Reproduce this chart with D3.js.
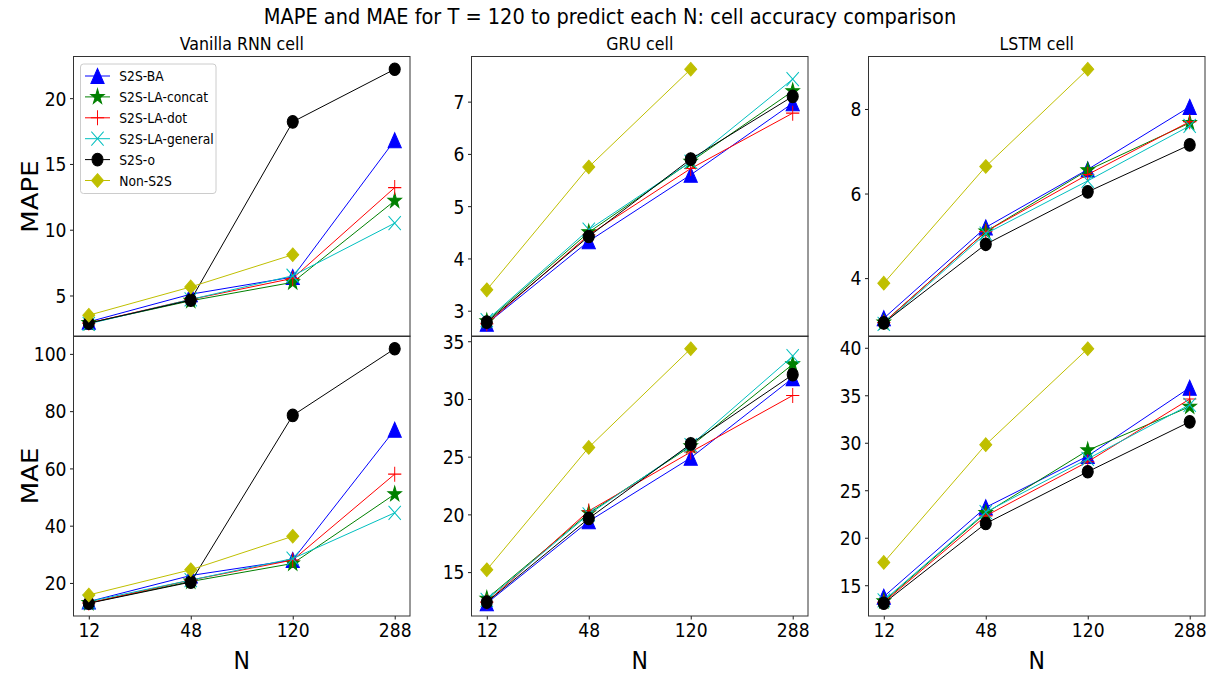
<!DOCTYPE html>
<html lang="en">
  <head>
    <meta charset="utf-8" />
    <title>MAPE and MAE cell accuracy comparison</title>
    <script src="https://cdnjs.cloudflare.com/ajax/libs/d3/7.8.5/d3.min.js"></script>
    <style type="text/css">
      body { margin: 0; background: #fff; }
      text { font-family: "DejaVu Sans", sans-serif; fill: #000; }
    </style>
  </head>

  <body>
    <div id="chart"></div>

    <script>
      // Data
      const categories = ['12', '48', '120', '288'];
      const seriesNames = ['S2S-BA', 'S2S-LA-concat', 'S2S-LA-dot', 'S2S-LA-general', 'S2S-o', 'Non-S2S'];
      const cellNames = ['Vanilla RNN cell', 'GRU cell', 'LSTM cell'];

      // rows follow seriesNames, columns follow categories (null = no point)
      const rnnMAPE = [
        [3.0, 5.1, 6.4, 16.8],
        [2.9, 4.6, 6.0, 12.2],
        [2.9, 4.7, 6.3, 13.2],
        [2.85, 4.7, 6.5, 10.5],
        [2.9, 4.65, 18.2, 22.2],
        [3.5, 5.65, 8.1, null]
      ];
      const rnnMAE = [
        [13.5, 22.6, 28.0, 73.5],
        [13.0, 20.5, 26.8, 51.0],
        [13.0, 21.0, 28.0, 58.0],
        [13.5, 21.0, 28.5, 44.5],
        [12.9, 20.3, 78.5, 101.8],
        [15.8, 24.6, 36.3, null]
      ];
      const gruMAPE = [
        [2.75, 4.33, 5.6, 6.97],
        [2.8, 4.5, 5.85, 7.2],
        [2.75, 4.45, 5.72, 6.78],
        [2.82, 4.55, 5.85, 7.43],
        [2.78, 4.42, 5.9, 7.1],
        [3.4, 5.75, 7.62, null]
      ];
      const gruMAE = [
        [12.3, 19.4, 24.9, 31.8],
        [12.7, 20.1, 25.9, 33.0],
        [12.4, 20.3, 25.4, 30.3],
        [12.6, 20.0, 26.0, 33.7],
        [12.4, 19.65, 26.1, 32.1],
        [15.2, 25.8, 34.35, null]
      ];
      const lstmMAPE = [
        [3.05, 5.2, 6.57, 8.05],
        [2.95, 5.1, 6.55, 7.67],
        [2.95, 5.1, 6.45, 7.7],
        [2.92, 5.05, 6.3, 7.6],
        [2.94, 4.8, 6.04, 7.15],
        [3.88, 6.64, 8.94, null]
      ];
      const lstmMAE = [
        [13.8, 23.2, 28.6, 35.8],
        [13.3, 22.6, 29.2, 33.8],
        [13.2, 22.3, 28.0, 34.6],
        [13.4, 22.7, 28.3, 34.0],
        [13.1, 21.5, 26.95, 32.2],
        [17.4, 29.8, 39.9, null]
      ];

      const rnnMAPETicks = [5, 10, 15, 20];
      const rnnMAETicks = [20, 40, 60, 80, 100];
      const gruMAPETicks = [3, 4, 5, 6, 7];
      const gruMAETicks = [15, 20, 25, 30, 35];
      const lstmMAPETicks = [4, 6, 8];
      const lstmMAETicks = [15, 20, 25, 30, 35, 40];

      const panels = [
        { row: 0, col: 0, values: rnnMAPE, ticks: rnnMAPETicks },
        { row: 0, col: 1, values: gruMAPE, ticks: gruMAPETicks },
        { row: 0, col: 2, values: lstmMAPE, ticks: lstmMAPETicks },
        { row: 1, col: 0, values: rnnMAE, ticks: rnnMAETicks },
        { row: 1, col: 1, values: gruMAE, ticks: gruMAETicks },
        { row: 1, col: 2, values: lstmMAE, ticks: lstmMAETicks }
      ];

      // Layout
      const width = 1217;
      const height = 674;
      const sx = 0.88; // the picture is squeezed a little horizontally
      const colX = [73.5, 471.5, 868.5];
      const panelW = 336.5;
      const rowY = [56.5, 336];
      const panelH = 280;
      const tickFont = 19.5;

      const colors = ['#0000ff', '#008000', '#ff0000', '#00bfbf', '#000000', '#bfbf00'];
      const markers = ['triangle', 'star', 'plus', 'x', 'circle', 'diamond'];

      function markerPath(type) {
        if (type === 'triangle') return 'M0,-7.5L7.5,7.5L-7.5,7.5Z';
        if (type === 'circle') return d3.symbol(d3.symbolCircle, Math.PI * 6.3 * 6.3)();
        if (type === 'diamond') return 'M0,-6.8L6.8,0L0,6.8L-6.8,0Z';
        if (type === 'plus') return 'M-7.5,0H7.5M0,-7.5V7.5';
        if (type === 'x') return 'M-7,-7L7,7M-7,7L7,-7';
        // star
        const R = 8, r = R * 0.381966;
        let p = '';
        for (let k = 0; k < 10; k++) {
          const rad = k % 2 === 0 ? R : r;
          const a = -Math.PI / 2 + k * Math.PI / 5;
          p += (k === 0 ? 'M' : 'L') + (rad * Math.cos(a)).toFixed(2) + ',' + (rad * Math.sin(a)).toFixed(2);
        }
        return p + 'Z';
      }

      function drawMarker(g, type, color, x, y) {
        const open = type === 'plus' || type === 'x';
        g.append('path')
          .attr('d', markerPath(type))
          .attr('transform', `translate(${x},${y}) scale(${sx},1)`)
          .attr('fill', open ? 'none' : color)
          .attr('stroke', color)
          .attr('stroke-width', 1.1);
      }

      function addText(parent, str, x, y, size, anchor, rotate) {
        return parent.append('text')
          .attr('transform', `translate(${x},${y}) scale(${sx},1)` + (rotate ? ' rotate(-90)' : ''))
          .attr('text-anchor', anchor)
          .attr('font-size', size)
          .text(str);
      }

      const svg = d3.select('#chart').append('svg')
        .attr('width', width)
        .attr('height', height);

      svg.append('rect').attr('width', width).attr('height', height).attr('fill', '#fff');

      // Title and labels
      addText(svg, 'MAPE and MAE for T = 120 to predict each N: cell accuracy comparison', 610, 24, 22, 'middle');
      cellNames.forEach((name, i) => {
        addText(svg, name, colX[i] + panelW / 2, 50, 18, 'middle');
        addText(svg, 'N', colX[i] + panelW / 2, 669, 25, 'middle');
      });
      addText(svg, 'MAPE', 38, rowY[0] + panelH / 2, 26, 'middle', true);
      addText(svg, 'MAE', 38, rowY[1] + panelH / 2, 26, 'middle', true);

      panels.forEach(p => {
        const x0 = colX[p.col];
        const y0 = rowY[p.row];
        const g = svg.append('g').attr('transform', `translate(${x0},${y0})`);

        const x = d3.scaleLinear().domain([-0.15, categories.length - 1 + 0.15]).range([0, panelW]);
        const all = p.values.flat().filter(v => v !== null);
        const lo = d3.min(all), hi = d3.max(all), pad = (hi - lo) * 0.05;
        const y = d3.scaleLinear().domain([lo - pad, hi + pad]).range([panelH, 0]);

        // y axis
        const yAxis = g.append('g')
          .call(d3.axisLeft(y).tickValues(p.ticks).tickSize(3.5).tickPadding(3.5).tickFormat(d3.format('d')));
        yAxis.select('.domain').remove();
        yAxis.selectAll('line').attr('stroke', '#000').attr('stroke-width', 0.9);
        yAxis.selectAll('text')
          .attr('font-size', tickFont)
          .attr('font-family', '"DejaVu Sans", sans-serif')
          .attr('dy', '0.35em')
          .attr('transform', function () {
            const tx = +d3.select(this).attr('x');
            return `translate(${tx},0) scale(${sx},1)`;
          })
          .attr('x', 0);

        // x axis on the bottom row only
        if (p.row === 1) {
          const xAxis = g.append('g')
            .attr('transform', `translate(0,${panelH})`)
            .call(d3.axisBottom(x).tickValues(d3.range(categories.length))
              .tickSize(3.5).tickPadding(3.5).tickFormat(i => categories[i]));
          xAxis.select('.domain').remove();
          xAxis.selectAll('line').attr('stroke', '#000').attr('stroke-width', 0.9);
          xAxis.selectAll('text')
            .attr('font-size', tickFont)
            .attr('font-family', '"DejaVu Sans", sans-serif')
            .attr('dy', '0.71em')
            .attr('transform', function () {
              const ty = +d3.select(this).attr('y');
              return `translate(0,${ty}) scale(${sx},1)`;
            })
            .attr('y', 0);
        }

        // series
        p.values.forEach((vals, si) => {
          const pts = vals.map((v, i) => [i, v]).filter(d => d[1] !== null);
          const line = d3.line().x(d => x(d[0])).y(d => y(d[1]));
          g.append('path')
            .datum(pts)
            .attr('fill', 'none')
            .attr('stroke', colors[si])
            .attr('stroke-width', 1)
            .attr('d', line);
          pts.forEach(d => drawMarker(g, markers[si], colors[si], x(d[0]), y(d[1])));
        });

        // frame
        g.append('rect')
          .attr('width', panelW)
          .attr('height', panelH)
          .attr('fill', 'none')
          .attr('stroke', '#333')
          .attr('stroke-width', 1);
      });

      // Legend (top-left panel)
      const legend = svg.append('g').attr('transform', 'translate(80.5,64)');
      legend.append('rect')
        .attr('width', 135.5)
        .attr('height', 129.5)
        .attr('rx', 3)
        .attr('fill', '#fff')
        .attr('fill-opacity', 0.8)
        .attr('stroke', '#ccc');
      seriesNames.forEach((name, i) => {
        const ly = 12 + i * 20.9;
        legend.append('line')
          .attr('x1', 4.5).attr('x2', 29.5)
          .attr('y1', ly).attr('y2', ly)
          .attr('stroke', colors[i])
          .attr('stroke-width', 1);
        drawMarker(legend, markers[i], colors[i], 17, ly);
        addText(legend, name, 38.8, ly + 5, 14, 'start');
      });
    </script>
  </body>
</html>
